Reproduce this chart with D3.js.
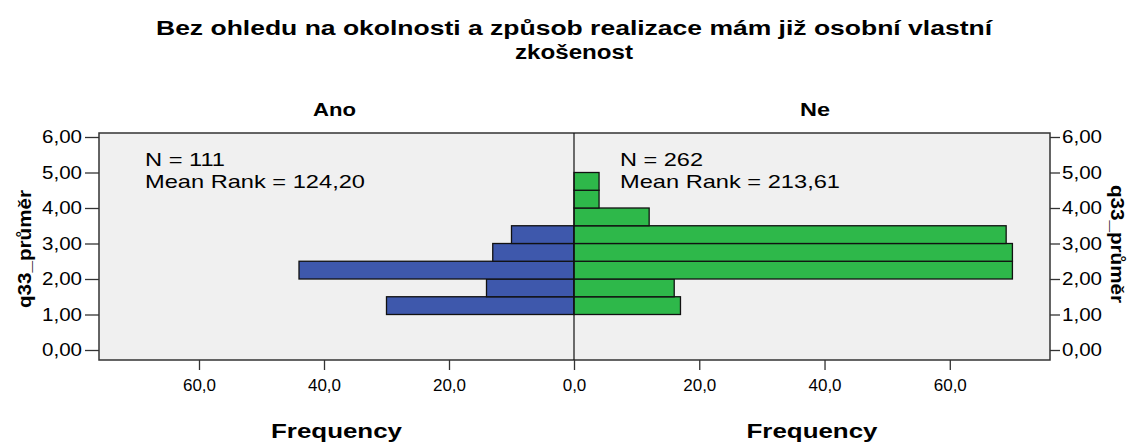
<!DOCTYPE html>
<html>
<head>
<meta charset="utf-8">
<script src="https://cdn.jsdelivr.net/npm/d3@7"></script>
<style>
  body { margin: 0; background: #fff; }
  text { font-family: Arial, "Liberation Sans", sans-serif; fill: #000; }
</style>
</head>
<body>
<script>
// data
var binStart = [1.0, 1.5, 2.0, 2.5, 3.0, 3.5, 4.0, 4.5];
var binWidth = 0.5;
var anoFreq = [30, 14, 44, 13, 10, 0, 0, 0];
var neFreq  = [17, 16, 70, 70, 69, 12, 4, 4];
var groups = ["Ano", "Ne"];
var stats = [["N = 111", "Mean Rank = 124,20"], ["N = 262", "Mean Rank = 213,61"]];
var yTicks = [0, 1, 2, 3, 4, 5, 6];
var xTicks = [0, 20, 40, 60];

var W = 1132, H = 444;
var frame = {left: 99, right: 1050, top: 133, bottom: 360};
var zero = 574;

var svg = d3.select("body").append("svg")
    .attr("width", W)
    .attr("height", H);

// stretch a text to a given width (the source picture is wide-set)
function fit(sel, w) {
  return sel.attr("textLength", w).attr("lengthAdjust", "spacingAndGlyphs");
}

// scales
var y = d3.scaleLinear().domain([0, 6]).range([350, 137]);
var xL = d3.scaleLinear().domain([0, 76]).range([zero, frame.left]);
var xR = d3.scaleLinear().domain([0, 76]).range([zero, frame.right]);

var fmtY = function(d) { return d3.format(".2f")(d).replace(".", ","); };
var fmtX = function(d) { return d3.format(".1f")(d).replace(".", ","); };

// title
fit(svg.append("text").attr("x", zero).attr("y", 35)
    .attr("text-anchor", "middle")
    .style("font-size", "20px").style("font-weight", "bold")
    .text("Bez ohledu na okolnosti a způsob realizace mám již osobní vlastní"), 836);
fit(svg.append("text").attr("x", zero).attr("y", 59)
    .attr("text-anchor", "middle")
    .style("font-size", "20px").style("font-weight", "bold")
    .text("zkošenost"), 118);

// panel labels
fit(svg.append("text").attr("x", (frame.left + zero) / 2 - 2).attr("y", 116)
    .attr("text-anchor", "middle").style("font-size", "19px").style("font-weight", "bold")
    .text(groups[0]), 43);
fit(svg.append("text").attr("x", (zero + frame.right) / 2 + 3).attr("y", 116)
    .attr("text-anchor", "middle").style("font-size", "19px").style("font-weight", "bold")
    .text(groups[1]), 30);

// background
svg.append("rect")
    .attr("x", frame.left).attr("y", frame.top)
    .attr("width", frame.right - frame.left)
    .attr("height", frame.bottom - frame.top)
    .attr("fill", "#f0f0f0");

var bins = binStart.map(function(b, i) { return {lo: b, hi: b + binWidth, ano: anoFreq[i], ne: neFreq[i]}; });

// Ano bars (left)
svg.selectAll(".ano")
    .data(bins.filter(function(d) { return d.ano > 0; }))
  .enter().append("rect")
    .attr("class", "ano")
    .attr("x", function(d) { return xL(d.ano); })
    .attr("y", function(d) { return y(d.hi); })
    .attr("width", function(d) { return zero - xL(d.ano); })
    .attr("height", function(d) { return y(d.lo) - y(d.hi); })
    .attr("fill", "#3e58ac")
    .attr("stroke", "#111")
    .attr("stroke-width", 1.3);

// Ne bars (right)
svg.selectAll(".ne")
    .data(bins.filter(function(d) { return d.ne > 0; }))
  .enter().append("rect")
    .attr("class", "ne")
    .attr("x", zero)
    .attr("y", function(d) { return y(d.hi); })
    .attr("width", function(d) { return xR(d.ne) - zero; })
    .attr("height", function(d) { return y(d.lo) - y(d.hi); })
    .attr("fill", "#2eb84a")
    .attr("stroke", "#111")
    .attr("stroke-width", 1.3);

// frame and center line
svg.append("rect")
    .attr("x", frame.left).attr("y", frame.top)
    .attr("width", frame.right - frame.left)
    .attr("height", frame.bottom - frame.top)
    .attr("fill", "none").attr("stroke", "#333").attr("stroke-width", 1.5);
svg.append("line")
    .attr("x1", zero).attr("x2", zero).attr("y1", frame.top).attr("y2", frame.bottom)
    .attr("stroke", "#111").attr("stroke-width", 1.2);

// stats text
[[145, stats[0], [80, 220]], [620, stats[1], [83, 220]]].forEach(function(s) {
  fit(svg.append("text").attr("x", s[0]).attr("y", 166).style("font-size", "19px")
      .text(s[1][0]), s[2][0]);
  fit(svg.append("text").attr("x", s[0]).attr("y", 188).style("font-size", "19px")
      .text(s[1][1]), s[2][1]);
});

// y axes
var axL = svg.append("g")
    .attr("transform", "translate(" + frame.left + ",0)")
    .call(d3.axisLeft(y).tickValues(yTicks).tickFormat(fmtY).tickSize(14).tickPadding(3));
var axR = svg.append("g")
    .attr("transform", "translate(" + frame.right + ",0)")
    .call(d3.axisRight(y).tickValues(yTicks).tickFormat(fmtY).tickSize(10).tickPadding(2));
[axL, axR].forEach(function(a) {
  a.select(".domain").remove();
  a.selectAll("line").attr("stroke", "#333").attr("stroke-width", 1.3);
  fit(a.selectAll("text").style("font-size", "18px")
    .style("font-family", "Arial, 'Liberation Sans', sans-serif").attr("fill", "#222"), 40);
});

// x axes
var axXL = svg.append("g")
    .attr("transform", "translate(0," + frame.bottom + ")")
    .call(d3.axisBottom(xL).tickValues(xTicks.slice(1)).tickFormat(fmtX).tickSize(10).tickPadding(9));
var axXR = svg.append("g")
    .attr("transform", "translate(0," + frame.bottom + ")")
    .call(d3.axisBottom(xR).tickValues(xTicks).tickFormat(fmtX).tickSize(10).tickPadding(9));
[axXL, axXR].forEach(function(a) {
  a.select(".domain").remove();
  a.selectAll("line").attr("stroke", "#333").attr("stroke-width", 1.3);
  a.selectAll("text").style("font-size", "17px")
    .style("font-family", "'Liberation Sans Narrow', 'Arial Narrow', Arial, sans-serif").attr("fill", "#222");
});

// axis titles
fit(svg.append("text").attr("x", (frame.left + zero) / 2).attr("y", 438)
    .attr("text-anchor", "middle").style("font-size", "20px").style("font-weight", "bold")
    .text("Frequency"), 131);
fit(svg.append("text").attr("x", (zero + frame.right) / 2).attr("y", 438)
    .attr("text-anchor", "middle").style("font-size", "20px").style("font-weight", "bold")
    .text("Frequency"), 131);

fit(svg.append("text")
    .attr("transform", "translate(31," + 249 + ") rotate(-90)")
    .attr("text-anchor", "middle").style("font-size", "18px").style("font-weight", "bold")
    .text("q33_průměr"), 118);
fit(svg.append("text")
    .attr("transform", "translate(1111," + 244 + ") rotate(90)")
    .attr("text-anchor", "middle").style("font-size", "18px").style("font-weight", "bold")
    .text("q33_průměr"), 118);
</script>
</body>
</html>
